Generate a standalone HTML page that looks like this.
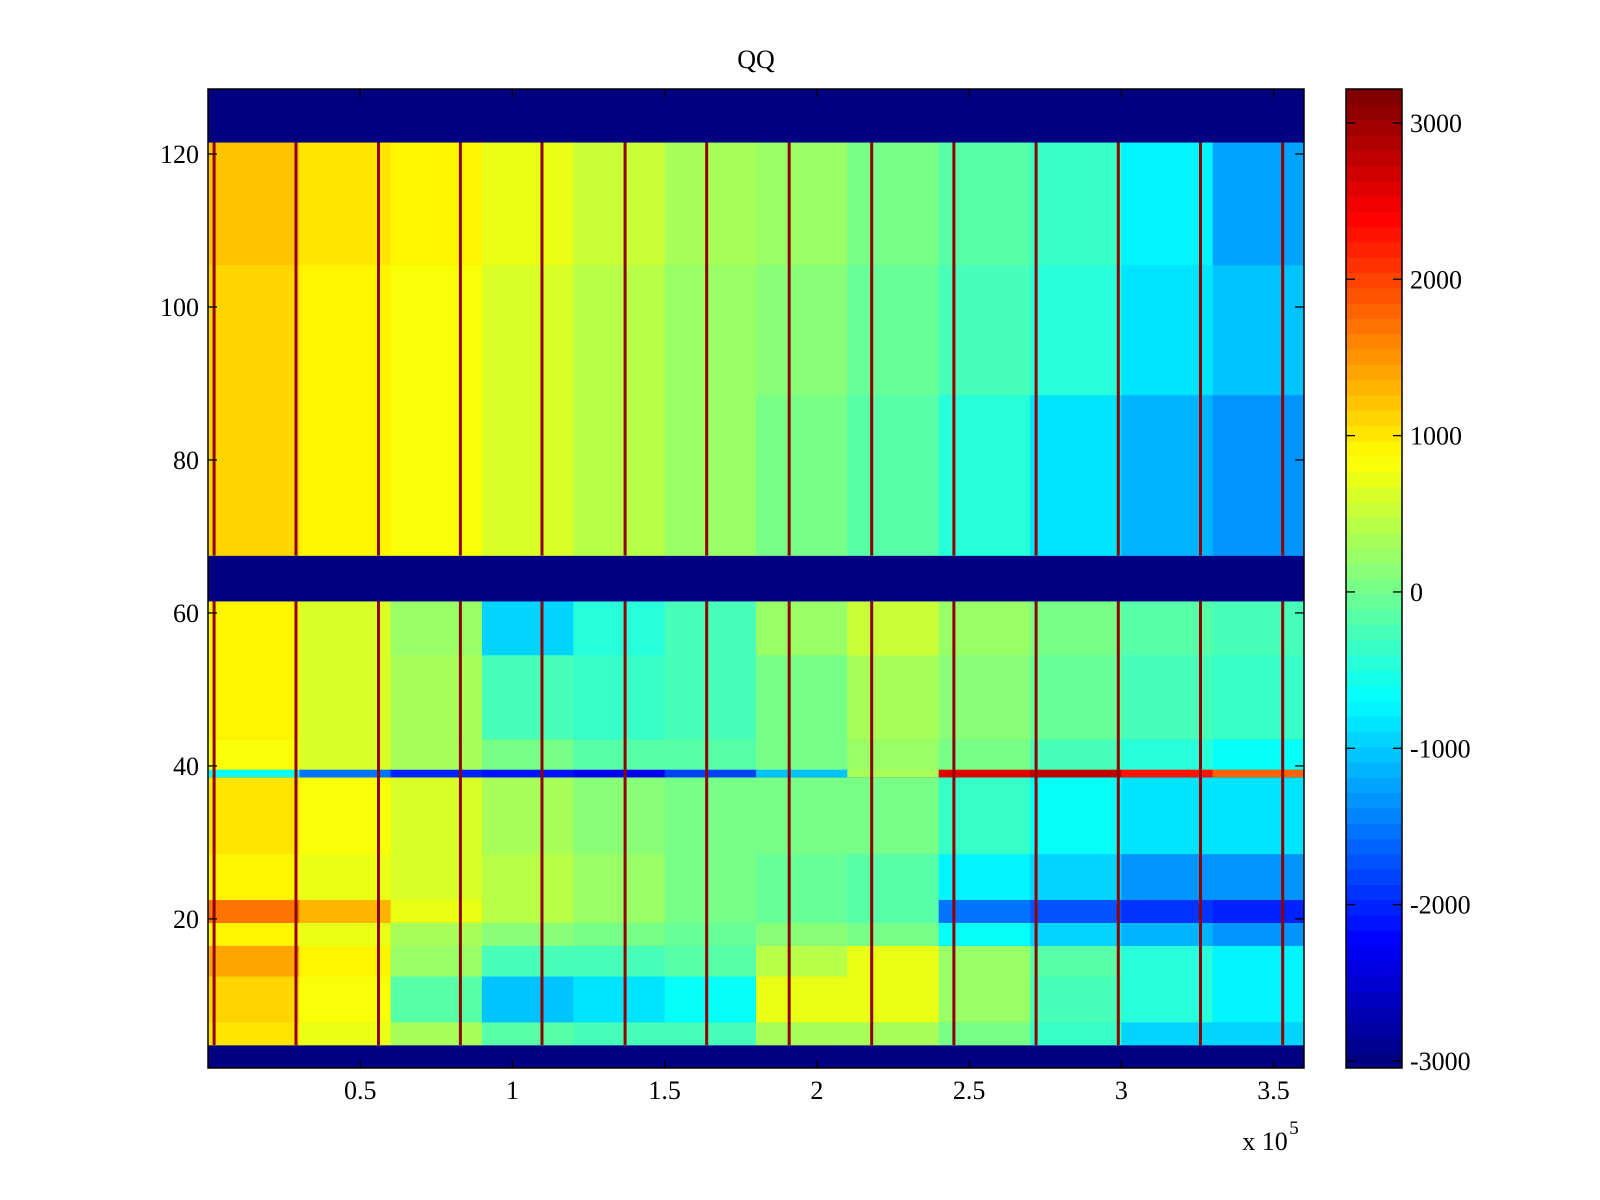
<!DOCTYPE html>
<html><head><meta charset="utf-8"><style>
html,body{margin:0;padding:0;background:#fff;}
svg{display:block;}
text{font-family:"Liberation Serif",serif;font-size:26px;fill:#000;}
</style></head><body>
<svg id="chart" width="1600" height="1200" viewBox="0 0 1600 1200" xmlns="http://www.w3.org/2000/svg">
<text x="756" y="68" text-anchor="middle">QQ</text>
<g id="cells"></g>
<g id="axes"></g>
<g id="cbar"></g>
</svg>
<script>
// ---- data ----
const xGroupEdges = [0,0.3,0.6,0.9,1.2,1.5,1.8,2.1,2.4,2.7,3.0,3.3,3.6]; // x10^5
const rowBands = [[4,6],[7,12],[13,16],[17,19],[20,22],[23,28],[29,38],[40,43],[44,54],[55,61],[68,88],[89,105],[106,121]];
const band0 = [1000,700,300,-200,-300,-300,300,300,0,-400,-900,-900];
const band1 = [1100,800,-200,-1000,-800,-600,700,700,200,-300,-500,-700];
const band2 = [1400,900,200,-300,-300,-200,400,700,200,-200,-500,-700];
const band3 = [900,700,300,100,0,-100,100,0,-600,-900,-1100,-1300];
const band4 = [1700,1300,700,400,200,0,-100,-200,-1500,-1700,-1900,-2000];
const band5 = [900,700,600,400,200,0,-100,-200,-700,-900,-1300,-1300];
const band6 = [1000,800,600,300,100,0,0,0,-400,-600,-800,-800];
const band7 = [800,600,300,0,-200,-200,0,200,0,-300,-500,-600];
const band8 = [900,600,300,-300,-400,-300,0,300,100,-100,-300,-400];
const band9 = [900,600,200,-900,-500,-300,200,500,200,0,-200,-300];
const band10 = [1100,950,800,600,400,200,0,-200,-500,-800,-1100,-1300];
const band11 = [1100,950,850,650,400,200,100,-100,-300,-500,-800,-1000];
const band12 = [1200,1000,900,700,500,300,200,0,-200,-400,-700,-1200];
const bandValues = [band0,band1,band2,band3,band4,band5,band6,band7,band8,band9,band10,band11,band12];
const row39Values = [-600,-1500,-2000,-2100,-2300,-1800,-1000,300,2600,2800,2300,1800];
const stripeX = [0.02,0.289,0.56,0.829,1.097,1.37,1.638,1.909,2.18,2.45,2.72,2.99,3.26,3.53];
const stripeValue = 3100;
const blankValue = -3045;
const xTicks = [0.5,1,1.5,2,2.5,3,3.5];
const xTickLabels = ["0.5","1","1.5","2","2.5","3","3.5"];
const yTicks = [20,40,60,80,100,120];
const cTicks = [-3000,-2000,-1000,0,1000,2000,3000];
// ---- scales ----
const L=208,R=1304,T=89,B=1068;
const sx = v => L + (v/3.6)*(R-L);
const sy = r => T + (128.5-r)/128*(B-T);
const cmin=-3045,cmax=3217;
function jet(v){
  let t=(v-cmin)/(cmax-cmin); t=Math.max(0,Math.min(1,t));
  t=Math.min(63,Math.floor(t*64))/63;
  const f=x=>Math.max(0,Math.min(1,x));
  const r=f(1.5-Math.abs(4*t-3)), g=f(1.5-Math.abs(4*t-2)), b=f(1.5-Math.abs(4*t-1));
  return `rgb(${Math.round(r*255)},${Math.round(g*255)},${Math.round(b*255)})`;
}
const NS="http://www.w3.org/2000/svg";
function rect(parent,x,y,w,h,fill){
  const e=document.createElementNS(NS,'rect');
  e.setAttribute('x',x);e.setAttribute('y',y);e.setAttribute('width',w);e.setAttribute('height',h);e.setAttribute('fill',fill);
  parent.appendChild(e);return e;
}
function line(parent,x1,y1,x2,y2){
  const e=document.createElementNS(NS,'line');
  e.setAttribute('x1',x1);e.setAttribute('y1',y1);e.setAttribute('x2',x2);e.setAttribute('y2',y2);
  e.setAttribute('stroke','#000');e.setAttribute('stroke-width','1.3');
  parent.appendChild(e);return e;
}
function text(parent,x,y,s,anchor){
  const e=document.createElementNS(NS,'text');
  e.setAttribute('x',x);e.setAttribute('y',y);e.setAttribute('text-anchor',anchor);e.textContent=s;
  parent.appendChild(e);return e;
}
const cells=document.getElementById('cells');
const bg=rect(cells,L,T,R-L,B-T,jet(blankValue));


rowBands.forEach((rb,bi)=>{
  const vals=bandValues[bi];
  for(let c=0;c<vals.length;c++){
    const x0=sx(xGroupEdges[c]),x1=sx(xGroupEdges[c+1]);
    const y0=sy(rb[1]+0.5),y1=sy(rb[0]-0.5);
    const e=rect(cells,x0,y0,x1-x0+0.5,y1-y0+0.3,jet(vals[c]));
    
    
  }
});
for(let c=0;c<row39Values.length;c++){
  const x0=sx(xGroupEdges[c]),x1=sx(xGroupEdges[c+1]);
  const e=rect(cells,x0,sy(39.5),x1-x0+0.5,sy(38.5)-sy(39.5),jet(row39Values[c]));
  
  
}
stripeX.forEach(v=>{
  [[4,61],[68,121]].forEach(seg=>{
    const e=rect(cells,sx(v)-1.5,sy(seg[1]+0.5),3,sy(seg[0]-0.5)-sy(seg[1]+0.5),jet(stripeValue));
    
    
  });
});
const ax=document.getElementById('axes');
const frame=rect(ax,L,T,R-L,B-T,'none');
frame.setAttribute('stroke','#000');frame.setAttribute('stroke-width','1.5');


xTicks.forEach((v,i)=>{
  const x=sx(v);
  line(ax,x,B,x,B-8);line(ax,x,T,x,T+8);
  const t=text(ax,x,1099,xTickLabels[i],'middle');
  
  
});
yTicks.forEach(v=>{
  const y=sy(v);
  line(ax,L,y,L+9,y);line(ax,R,y,R-9,y);
  const t=text(ax,199,y+9,String(v),'end');
  
  
});
const xm=text(ax,1265,1150,'x 10','middle');


const ex=text(ax,1294,1134,'5','middle');
ex.setAttribute('style','font-size:19px');


const cb=document.getElementById('cbar');
const CL=1346,CR=1402;
const cy=v=>B-(v-cmin)/(cmax-cmin)*(B-T);
for(let i=0;i<64;i++){
  const v0=cmin+(cmax-cmin)*i/64, v1=cmin+(cmax-cmin)*(i+1)/64;
  const e=rect(cb,CL,cy(v1),CR-CL,cy(v0)-cy(v1)+0.5,jet((v0+v1)/2));
  
  
}
const cf=rect(cb,CL,T,CR-CL,B-T,'none');
cf.setAttribute('stroke','#000');cf.setAttribute('stroke-width','1.5');


cTicks.forEach(v=>{
  const y=cy(v);
  line(cb,CL,y,CL+9,y);line(cb,CR,y,CR-9,y);
  const t=text(cb,1410,y+9,String(v),'start');
  
  
});
</script>
</body></html>
